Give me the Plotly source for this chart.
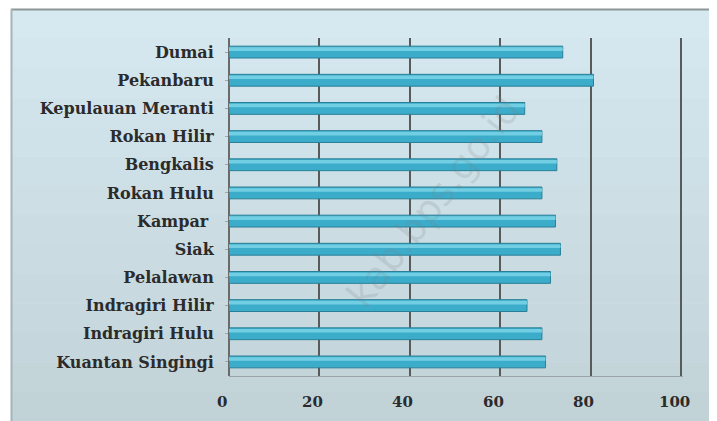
import plotly.graph_objects as go

categories = ["Dumai", "Pekanbaru", "Kepulauan Meranti", "Rokan Hilir", "Bengkalis",
              "Rokan Hulu", "Kampar ", "Siak", "Pelalawan", "Indragiri Hilir",
              "Indragiri Hulu", "Kuantan Singingi"]
values = [73.8, 80.6, 65.4, 69.2, 72.5, 69.2, 72.2, 73.3, 71.1, 65.9, 69.2, 70.0]
tick_vals = [0, 20, 40, 60, 80, 100]
tick_text = ["0", "20", "40", "60", "80", "100"]

# page body has an 8px margin, so the figure is sized to fill the rest of the window
OFF = 8
W, H = 717 - OFF, 421 - OFF
L, R, T, B = 229 - OFF, 34, 38 - OFF, 45
pw, ph = W - L - R, H - T - B

def px(sx):
    return (sx - OFF - L) / pw

def py(sy):
    return (H - B - (sy - OFF)) / ph

fig = go.Figure()
fig.add_trace(go.Bar(
    y=categories, x=values, orientation="h", width=0.42,
    marker=dict(color="#3caccb", line=dict(color="#2a7f96", width=1)),
    hoverinfo="x+y", showlegend=False,
))
fig.add_trace(go.Bar(
    y=categories, x=values, orientation="h", width=0.13, offset=-0.17,
    marker=dict(color="#72cfe3", line=dict(width=0)),
    hoverinfo="skip", showlegend=False,
))

# background panel with soft vertical gradient
top_c = (214, 232, 240)
bot_c = (194, 211, 216)
n = 14
y_top, y_bot = 9, 421
shapes = []
for i in range(n):
    f = i / (n - 1)
    c = tuple(int(round(top_c[k] + (bot_c[k] - top_c[k]) * f)) for k in range(3))
    ya = y_top + (y_bot - y_top) * i / n
    yb = y_top + (y_bot - y_top) * (i + 1) / n
    shapes.append(dict(type="rect", xref="paper", yref="paper",
                       x0=px(11), x1=px(718), y0=py(yb + 0.5), y1=py(ya),
                       fillcolor="rgb(%d,%d,%d)" % c, line=dict(width=0), layer="below"))
shapes.append(dict(type="line", xref="paper", yref="paper", x0=px(11), x1=px(718),
                   y0=py(9.5), y1=py(9.5), line=dict(color="#8e9597", width=2), layer="below"))
shapes.append(dict(type="line", xref="paper", yref="paper", x0=px(11.5), x1=px(11.5),
                   y0=py(9), y1=py(422), line=dict(color="#a6b4b8", width=2), layer="below"))

annotations = [dict(text="kab.bps.go.id", xref="paper", yref="paper",
                    x=px(335), y=py(318), showarrow=False, textangle=-52,
                    font=dict(family="DejaVu Sans", size=38, color="rgba(120,130,135,0.2)"))]
for v, t in zip(tick_vals, tick_text):
    annotations.append(dict(text="<b>%s</b>" % t, x=v, xref="x", y=py(402), yref="paper",
                            xshift=-7, showarrow=False, xanchor="center", yanchor="middle",
                            font=dict(family="DejaVu Serif", size=15, color="#2b2b2b")))

fig.update_layout(
    width=W, height=H,
    margin=dict(l=L, r=R, t=T, b=B),
    paper_bgcolor="white",
    plot_bgcolor="rgba(0,0,0,0)",
    barmode="overlay",
    shapes=shapes,
    annotations=annotations,
    font=dict(family="DejaVu Serif", size=15, color="#2b2b2b"),
    xaxis=dict(range=[0, 100.4], tickvals=tick_vals, ticktext=tick_text, showticklabels=False,
               showgrid=True, gridcolor="#5a5a5a", gridwidth=2,
               zeroline=True, zerolinecolor="#6a6a6a", zerolinewidth=2,
               showline=True, linecolor="#9aa3a6", linewidth=1,
               ticks="", fixedrange=True),
    yaxis=dict(categoryorder="array", categoryarray=categories, autorange="reversed",
               showgrid=False, zeroline=False, showline=False,
               ticks="outside", ticklen=3, tickcolor="#a0a8aa",
               ticklabelstandoff=8,
               tickfont=dict(family="DejaVu Serif", size=16, color="#2b2b2b", weight="bold"),
               fixedrange=True),
)

fig.write_html("out.html")
